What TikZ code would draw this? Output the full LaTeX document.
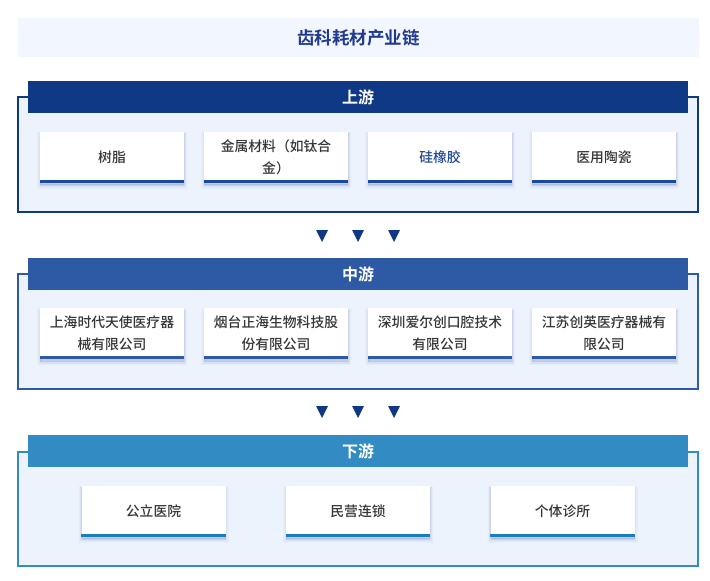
\documentclass[tikz,border=0pt]{standalone}
\usepackage{fontspec}
\setmainfont{Noto Sans CJK SC}
\newfontfamily\boxfont{Noto Sans CJK SC Medium}
\newfontfamily\headfont{Noto Sans CJK SC Bold}
\definecolor{navy}{HTML}{0F3985}
\definecolor{midblue}{HTML}{2E5AA5}
\definecolor{skyblue}{HTML}{338BC3}
\definecolor{titlebg}{HTML}{F2F6FE}
\definecolor{framebg}{HTML}{EDF3FD}
\definecolor{titletxt}{HTML}{1F3A8F}
\definecolor{txt}{HTML}{363636}
\definecolor{upline}{HTML}{1A48A2}
\definecolor{downline}{HTML}{1B7DC1}
\definecolor{bluetxt}{HTML}{1F4A96}
\definecolor{shadowc}{HTML}{6F86B8}
\begin{document}
\begin{tikzpicture}[x=1pt,y=-1pt]
\useasboundingbox (0,0) rectangle (710,581);
\tikzset{
  titlebox/.style={fill=titlebg, draw=none, minimum width=681pt, minimum height=39pt, inner sep=0pt,
    text=titletxt, font=\fontsize{17.5}{20}\headfont},
  frame/.style={draw=#1, line width=1.5pt, fill=framebg, minimum width=680pt, inner sep=0pt},
  header/.style={fill=#1, draw=none, text=white, font=\fontsize{16}{18}\headfont,
    minimum width=660pt, minimum height=32pt, inner sep=0pt},
  item/.style={fill=white, draw=none, minimum width=144pt, minimum height=51pt, inner sep=0pt,
    align=center, text=txt, font=\fontsize{13.8}{22}\boxfont,
    preaction={fill=shadowc, draw=shadowc, line width=6pt, opacity=0.06, transform canvas={yshift=-3pt}},
    preaction={fill=shadowc, draw=shadowc, line width=3pt, opacity=0.10, transform canvas={yshift=-3pt}},
    preaction={fill=shadowc, draw=shadowc, line width=1pt, opacity=0.14, transform canvas={yshift=-2pt}}},
  baseline/.style={line width=3pt, draw=#1},
  tri/.style={fill=navy, draw=none}
}
% title
\node[titlebox] (title) at (358.5,37.5) {齿科耗材产业链};

% ---------- upstream ----------
\node[frame=navy, minimum height=115pt] (upF) at (358,154.5) {};
\node[header=navy] (upH) at (358,97) {上游};
\node[item] (u1) at (112,157) {树脂};
\node[item] (u2) at (276,157) {金属材料（如钛合\\金）};
\node[item, text=bluetxt] (u3) at (440,157) {硅橡胶};
\node[item] (u4) at (604,157) {医用陶瓷};
\foreach \n in {u1,u2,u3,u4}
  \draw[baseline=upline] ([yshift=1.5pt]\n.south west) -- ([yshift=1.5pt]\n.south east);

% arrows 1
\foreach \x/\nm in {322/a1,358/a2,394/a3}{
  \coordinate (\nm) at (\x,236);
  \fill[tri] ([xshift=-6pt,yshift=6pt]\nm) -- ([xshift=6pt,yshift=6pt]\nm) -- ([yshift=-6pt]\nm) -- cycle;
}

% ---------- midstream ----------
\node[frame=midblue, minimum height=115pt] (midF) at (358,331.5) {};
\node[header=midblue] (midH) at (358,274) {中游};
\node[item] (m1) at (112,333.5) {上海时代天使医疗器\\械有限公司};
\node[item] (m2) at (276,333.5) {烟台正海生物科技股\\份有限公司};
\node[item] (m3) at (440,333.5) {深圳爱尔创口腔技术\\有限公司};
\node[item] (m4) at (604,333.5) {江苏创英医疗器械有\\限公司};
\foreach \n in {m1,m2,m3,m4}
  \draw[baseline=midblue] ([yshift=1.5pt]\n.south west) -- ([yshift=1.5pt]\n.south east);

% arrows 2
\foreach \x/\nm in {322/b1,358/b2,394/b3}{
  \coordinate (\nm) at (\x,412);
  \fill[tri] ([xshift=-6pt,yshift=6pt]\nm) -- ([xshift=6pt,yshift=6pt]\nm) -- ([yshift=-6pt]\nm) -- cycle;
}

% ---------- downstream ----------
\node[frame=skyblue, minimum height=114pt] (dnF) at (358,509) {};
\node[header=skyblue] (dnH) at (358,451) {下游};
\node[item] (d1) at (153.5,511) {公立医院};
\node[item] (d2) at (358,511) {民营连锁};
\node[item] (d3) at (562.5,511) {个体诊所};
\foreach \n in {d1,d2,d3}
  \draw[baseline=downline] ([yshift=1.5pt]\n.south west) -- ([yshift=1.5pt]\n.south east);
\end{tikzpicture}
\end{document}
